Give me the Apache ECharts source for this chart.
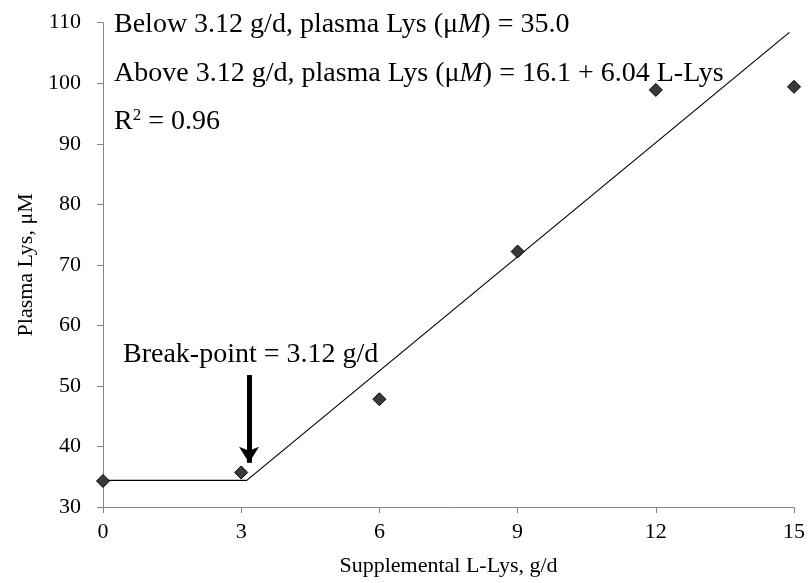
<!DOCTYPE html>
<html>
<head>
<meta charset="utf-8">
<script src="https://cdn.jsdelivr.net/npm/echarts@6/dist/echarts.min.js"></script>
<style>html,body{margin:0;padding:0;background:#fff}#c{width:808px;height:583px}</style>
</head>
<body>
<div id="c"></div>
<script>
// Data
var supplementalLys = [0, 3, 6, 9, 12, 15];
var plasmaLys = [34.3, 35.7, 47.8, 72.2, 98.9, 99.4];
var fitX = [0, 3.12, 14.9];
var fitY = [34.4, 34.4, 108.4];
var arrowX = [3.17, 3.17];
var arrowY = [51.8, 37.3];
var xTicks = [0, 3, 6, 9, 12, 15];
var yTicks = [30, 40, 50, 60, 70, 80, 90, 100, 110];

var FONT = '"Liberation Serif", "Times New Roman", serif';
var chart = echarts.init(document.getElementById('c'));

var scatterData = supplementalLys.map(function (x, i) { return [x, plasmaLys[i]]; });
var fitData = fitX.map(function (x, i) { return [x, fitY[i]]; });

var rich = {
  n: { fontFamily: FONT, fontSize: 28, lineHeight: 28, fill: '#000', color: '#000' },
  i: { fontFamily: FONT, fontSize: 28, lineHeight: 28, fontStyle: 'italic', fill: '#000', color: '#000' },
  sup: { fontFamily: FONT, fontSize: 17, lineHeight: 17, verticalAlign: 'top', fill: '#000', color: '#000' }
};

chart.setOption({
  animation: false,
  backgroundColor: '#fff',
  grid: { left: 103, right: 12.5, top: 22.7, bottom: 76, containLabel: false },
  xAxis: {
    type: 'value', min: xTicks[0], max: xTicks[xTicks.length - 1], interval: 3,
    name: 'Supplemental L-Lys, g/d', nameLocation: 'middle', nameGap: 48,
    nameTextStyle: { fontFamily: FONT, fontSize: 22, color: '#000' },
    axisLine: { show: true, lineStyle: { color: '#868686', width: 1 } },
    axisTick: { show: true, length: 6, lineStyle: { color: '#868686' } },
    axisLabel: { fontFamily: FONT, fontSize: 22, color: '#000', margin: 14 },
    splitLine: { show: false }
  },
  yAxis: {
    type: 'value', min: yTicks[0], max: yTicks[yTicks.length - 1], interval: 10,
    name: 'Plasma Lys, μM', nameLocation: 'middle', nameGap: 65,
    nameTextStyle: { fontFamily: FONT, fontSize: 22, color: '#000' },
    axisLine: { show: true, lineStyle: { color: '#868686', width: 1 } },
    axisTick: { show: true, length: 6, lineStyle: { color: '#868686' } },
    axisLabel: { fontFamily: FONT, fontSize: 22, color: '#000', margin: 22 },
    splitLine: { show: false }
  },
  series: [
    {
      type: 'line', data: fitData, showSymbol: false, symbol: 'none',
      lineStyle: { color: '#000', width: 1.2 }, z: 2,
      markLine: {
        silent: true, symbol: ['none', 'arrow'], symbolSize: [15, 16],
        lineStyle: { color: '#000', width: 5, type: 'solid' },
        label: { show: false },
        data: [[{ coord: [arrowX[0], arrowY[0]] }, { coord: [arrowX[1], arrowY[1]] }]]
      }
    },
    {
      type: 'scatter', data: scatterData, symbol: 'diamond', symbolSize: 13,
      itemStyle: { color: '#3a3a3a', borderColor: '#000', borderWidth: 1, opacity: 1 }, z: 3
    }
  ],
  graphic: [
    { type: 'text', left: 114, top: 10.5, style: { text: '{n|Below 3.12 g/d, plasma Lys (μ}{i|M}{n|) = 35.0}', rich: rich } },
    { type: 'text', left: 114, top: 59.5, style: { text: '{n|Above 3.12 g/d, plasma Lys (μ}{i|M}{n|) = 16.1 + 6.04 L-Lys}', rich: rich } },
    { type: 'text', left: 114, top: 107.5, style: { text: '{n|R}{sup|2}{n| = 0.96}', rich: rich } },
    { type: 'text', left: 123, top: 340.5, style: { text: '{n|Break-point = 3.12 g/d}', rich: rich } }
  ]
});
</script>
</body>
</html>
